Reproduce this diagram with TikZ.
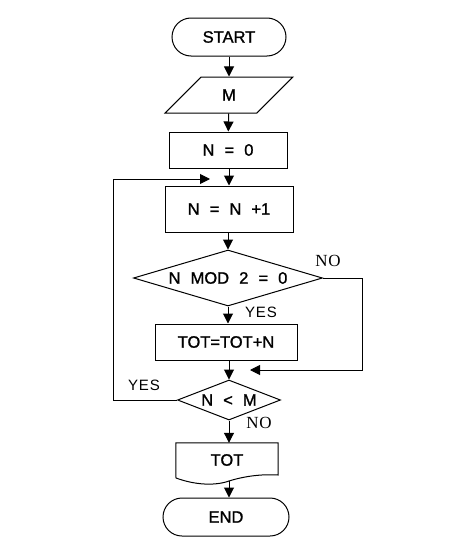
\documentclass[tikz,border=0pt]{standalone}
\usepackage{fontspec}
\setmainfont{Liberation Sans}[WordSpace=2.2, FakeBold=1.2]
\newfontfamily\labelsans{Liberation Sans}[LetterSpace=6]
\newfontfamily\labelserif{Liberation Serif}[LetterSpace=4]
\usetikzlibrary{shapes.geometric,arrows.meta}

\tikzset{
  flowline/.style={line width=1pt},
  flowarrow/.style={line width=1pt, -{Triangle[length=10pt,width=10pt]}},
  boxtext/.style={font=\fontsize{16.5}{19}\selectfont, inner sep=0pt},
  terminal/.style={boxtext, draw, line width=1pt, rectangle, rounded corners=19pt},
  process/.style={boxtext, draw, line width=1pt, rectangle},
  decision/.style={boxtext, draw, line width=1pt, diamond},
  iobox/.style={boxtext, draw, line width=1pt, trapezium, trapezium stretches=true,
    trapezium left angle=52, trapezium right angle=128},
  yeslabel/.style={font=\labelsans\fontsize{15}{17}\selectfont, inner sep=0pt},
  nolabel/.style={font=\labelserif\fontsize{17}{19}\selectfont, inner sep=0pt}
}

\begin{document}
\begin{tikzpicture}[x=1pt,y=-1pt]
  \fill[white] (0,0) rectangle (469,554);
  \useasboundingbox (0,0) rectangle (469,554);

  % boxes
  \node[terminal, minimum width=114pt, minimum height=38pt] (start) at (229,37) {START};
  \node[iobox, minimum width=128pt, minimum height=36pt] (inp) at (229,95) {M};
  \node[process, minimum width=118pt, minimum height=36pt] (init) at (228,150) {N = 0};
  \node[process, minimum width=128pt, minimum height=46pt] (inc) at (229,209) {N = N +1};
  \node[decision, aspect=3.4, minimum width=189pt, minimum height=56pt] (even) at (228,278) {N MOD 2 = 0};
  \node[process, minimum width=142pt, minimum height=36pt] (sum) at (226,342) {TOT=TOT+N};
  \node[decision, aspect=2.6, minimum width=103pt, minimum height=40pt] (test) at (229,400) {N {<} M};
  \node[boxtext, minimum width=102pt, minimum height=34pt] (out) at (227,460) {TOT};
  \node[terminal, minimum width=126pt, minimum height=38pt] (stop) at (226,517) {END};

  % document shape for the output, with a wavy lower edge
  \draw[flowline] (out.north west) -- (out.north east) -- (278,475)
    .. controls (262,474) and (245,476) .. (229,481) coordinate (outbot)
    .. controls (215,486) and (195,485) .. (176,478) -- cycle;

  % free ends of the two return lines
  \coordinate (loopin) at (210,179);
  \coordinate (noin) at (250,370);

  % main flow
  \draw[flowarrow] (start) -- (inp);
  \draw[flowarrow] (inp) -- (init);
  \draw[flowarrow] (init.south -| inc.north) -- (inc);
  \draw[flowarrow] (inc.south -| even.north) -- (even.north);
  \draw[flowarrow] (even.south) -- (even.south |- sum.north);
  \draw[flowarrow] (sum.south -| test.north) -- (test.north);
  \draw[flowarrow] (test.south) -- (test.south |- out.north);
  \draw[flowarrow] (outbot) -- (outbot |- stop.north);

  % branches
  \draw[flowarrow] (test.west) -- (113,400) -- (113,179) -- (loopin);
  \draw[flowarrow] (even.east) -- (362,278) -- (362,370) -- (noin);

  % branch labels
  \node[nolabel] (lno1) at (328,261) {NO};
  \node[yeslabel] (lyes1) at (261,312) {YES};
  \node[yeslabel] (lyes2) at (144,385) {YES};
  \node[nolabel] (lno2) at (259,423) {NO};
\end{tikzpicture}
\end{document}
